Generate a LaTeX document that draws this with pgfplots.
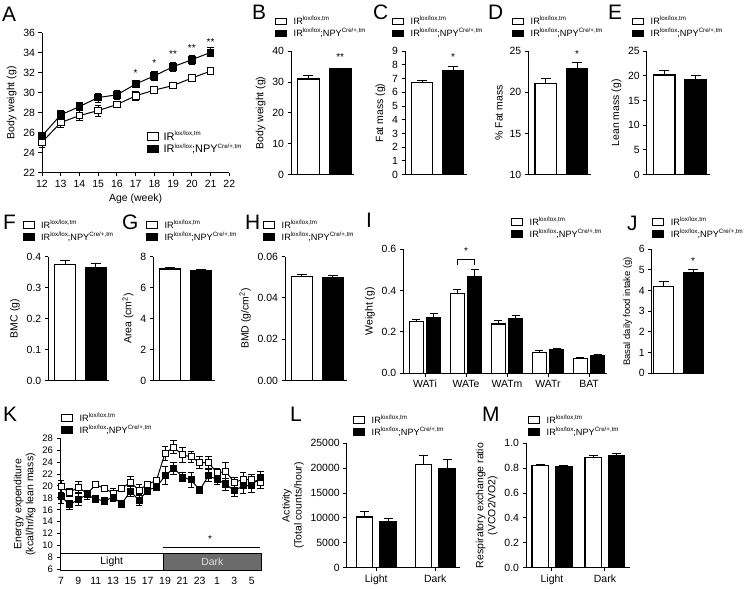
\documentclass[border=0pt]{standalone}
\usepackage{fontspec}
\setmainfont{Liberation Sans}
\usepackage{pgfplots}
\pgfplotsset{compat=1.18}

\newcommand\sps[1]{\raisebox{0.42em}{\fontsize{6.2}{6.2}\selectfont #1}}
\newcommand\gA{IR\sps{lox/lox,tm}}
\newcommand\gB{IR\sps{lox/lox};NPY\sps{Cre/+,tm}}
\newcommand\spsA[1]{\raisebox{0.42em}{\fontsize{6.2}{6.2}\selectfont #1}}
\newcommand\gAA{IR\spsA{lox/lox,tm}}
\newcommand\gBA{IR\spsA{lox/lox};NPY\spsA{Cre/+,tm}}
\newcommand\tickf{\fontsize{10.5}{12}\selectfont}
\newcommand\ktickf{\fontsize{9.5}{10}\selectfont}
\newcommand\labf{\fontsize{10.5}{12}\selectfont}
\newcommand\legf{\fontsize{9.2}{10}\selectfont}
\newcommand\legAf{\fontsize{11}{12}\selectfont}
\newcommand\starf{\fontsize{10}{10}\selectfont}
\newcommand\letf{\fontsize{21}{21}\selectfont}

\pgfplotsset{
 gp/.style={scale only axis, axis lines*=left, axis line style={line width=1pt,-},
   every tick/.style={black, line width=1pt}, tick align=outside, major tick length=3.5bp,
   tick label style={font=\tickf}, label style={font=\labf}, clip=false,
   /pgf/number format/assume math mode=true, scaled ticks=false,
   /pgf/number format/1000 sep={},
   legend style={draw=none, fill=none, font=\legf, inner sep=0pt, outer sep=0pt,
     nodes={inner sep=0pt, outer sep=0pt}, cells={anchor=base west},
     row sep=2.2bp, /tikz/column sep=6.6bp},
   anchor=south west},
 bar2/.style={gp, xmin=0.45, xmax=2.45, xtick=\empty, ymin=0},
 lg/.style 2 args={legend style={at={(axis description cs:0,1)}, anchor=north west, xshift=#1bp, yshift=#2bp}},
 sqW/.style={legend image code/.code={\draw[black,fill=white,line width=0.9pt] (0bp,0bp) rectangle (11.2bp,6.5bp);}},
 sqB/.style={legend image code/.code={\draw[black,fill=black,line width=0.9pt] (0bp,0bp) rectangle (11.2bp,6.5bp);}},
 sqWA/.style={legend image code/.code={\draw[black,fill=white,line width=1pt] (0bp,0bp) rectangle (11bp,7.8bp);}},
 sqBA/.style={legend image code/.code={\draw[black,fill=black,line width=1pt] (0bp,0bp) rectangle (11bp,7.8bp);}},
 ebar/.style={error bars/y dir=plus, error bars/y explicit,
   error bars/error bar style={line width=1pt,black},
   error bars/error mark options={rotate=90, mark size=#1, line width=1pt, black}},
 wbar/.style={ybar, bar width=0.68, bar shift=0pt, fill=white, draw=black, line width=1.3pt, ebar=5bp},
 bbar/.style={ybar, bar width=0.68, bar shift=0pt, fill=black, draw=black, line width=1.3pt, ebar=5bp},
 lineW/.style={black, line width=1pt, mark=square*, mark size=#1, mark options={fill=white, line width=1pt, solid},
   error bars/y dir=both, error bars/y explicit,
   error bars/error bar style={line width=0.9pt,black},
   error bars/error mark options={rotate=90, mark size=3.3bp, line width=0.9pt, black}},
 lineB/.style={black, line width=1pt, mark=square*, mark size=#1, mark options={fill=black, line width=1pt, solid},
   error bars/y dir=both, error bars/y explicit,
   error bars/error bar style={line width=0.9pt,black},
   error bars/error mark options={rotate=90, mark size=3.3bp, line width=0.9pt, black}},
}
\newcommand\twoleg{\addlegendimage{sqW}\addlegendentry{\gA}\addlegendimage{sqB}\addlegendentry{\gB}}

\begin{document}
\begin{tikzpicture}[x=1bp,y=1bp]
\useasboundingbox (0,0) rectangle (745,589);

% panel letters
\foreach \L/\px/\py in {A/2/7,B/252/5,C/373/5,D/488/5,E/608/5,F/3/215,G/122/215,H/245/215,I/366/213,J/627/216,K/3/407,L/290/407,M/482/407}{
  \node[anchor=north west, inner sep=0pt, font=\letf] at (\px,589-\py) {\L};
}

% ---------------- A
\begin{axis}[gp, at={(42bp,416bp)}, width=187.3bp, height=140.3bp,
  xmin=12, xmax=22, ymin=22, ymax=36, xtick={12,...,22}, ytick={22,24,...,36},
  xlabel={Age (week)}, ylabel={Body weight (g)},
  lg={104.7}{-98.3}, legend style={font=\legAf, row sep=2.3bp, /tikz/column sep=5bp}]
\addlegendimage{sqWA}\addlegendentry{\gAA}
\addlegendimage{sqBA}\addlegendentry{\gBA}
\addplot[lineW=3.4bp] coordinates {(12,25.07) +- (0,0.5) (13,27.03) +- (0,0.5) (14,27.73) +- (0,0.5) (15,28.23) +- (0,0.55) (16,28.83) +- (0,0.3) (17,29.7) +- (0,0.45) (18,30.27) +- (0,0.3) (19,30.73) +- (0,0.2) (20,31.47) +- (0,0.2) (21,32.17) +- (0,0.25)};
\addplot[lineB=3.4bp] coordinates {(12,25.7) +- (0,0.3) (13,27.8) +- (0,0.4) (14,28.63) +- (0,0.4) (15,29.53) +- (0,0.45) (16,29.8) +- (0,0.45) (17,30.87) +- (0,0.3) (18,31.7) +- (0,0.45) (19,32.6) +- (0,0.45) (20,33.3) +- (0,0.45) (21,34.03) +- (0,0.45)};
\node[font=\starf] at (axis cs:17,32.0) {*};
\node[font=\starf] at (axis cs:18,33.0) {*};
\node[font=\starf] at (axis cs:19,33.9) {**};
\node[font=\starf] at (axis cs:20,34.5) {**};
\node[font=\starf] at (axis cs:21,35.1) {**};
\end{axis}

% ---------------- B
\begin{axis}[bar2, at={(291bp,414.4bp)}, width=63.4bp, height=123.4bp, ymax=40, ytick={0,10,...,40},
  ylabel={Body weight (g)}, lg={-16}{34.8}]
\twoleg
\addplot[wbar] coordinates {(1,31.0) +- (0,1.2)};
\addplot[bbar] coordinates {(2,34.2) +- (0,0.35)};
\node[font=\starf] at (axis cs:2,38) {**};
\end{axis}

% ---------------- C
\begin{axis}[bar2, at={(405bp,414.4bp)}, width=62bp, height=123.4bp, ymax=9, ytick={0,1,...,9},
  ylabel={Fat mass (g)}, lg={-13}{34.8}]
\twoleg
\addplot[wbar] coordinates {(1,6.7) +- (0,0.15)};
\addplot[bbar] coordinates {(2,7.6) +- (0,0.25)};
\node[font=\starf] at (axis cs:2,8.55) {*};
\end{axis}

% ---------------- D
\begin{axis}[bar2, at={(528.3bp,414.4bp)}, width=63bp, height=123.4bp, ymin=10, ymax=25, ytick={10,15,20,25},
  ylabel={\% Fat mass}, lg={-16.3}{34.8}]
\twoleg
\addplot[wbar] coordinates {(1,21.1) +- (0,0.6)};
\addplot[bbar] coordinates {(2,22.9) +- (0,0.7)};
\node[font=\starf] at (axis cs:2,24.7) {*};
\end{axis}

% ---------------- E
\begin{axis}[bar2, at={(646.7bp,414.4bp)}, width=63.4bp, height=123.4bp, ymax=25, ytick={0,5,...,25},
  ylabel={Lean mass (g)}, lg={-14.7}{34.8}]
\twoleg
\addplot[wbar] coordinates {(1,20.2) +- (0,0.9)};
\addplot[bbar] coordinates {(2,19.2) +- (0,0.8)};
\end{axis}

% ---------------- F
\begin{axis}[bar2, at={(48.3bp,208.5bp)}, width=61bp, height=123.8bp, ymax=0.4, ytick={0,0.1,...,0.4},
  yticklabel style={/pgf/number format/.cd, fixed, fixed zerofill, precision=1},
  ylabel={BMC (g)}, lg={-25.8}{36.6}]
\twoleg
\addplot[wbar] coordinates {(1,0.375) +- (0,0.012)};
\addplot[bbar] coordinates {(2,0.365) +- (0,0.013)};
\end{axis}

% ---------------- G
\begin{axis}[bar2, at={(153.3bp,208.5bp)}, width=61.2bp, height=123.8bp, ymax=8, ytick={0,2,...,8},
  ylabel={Area (cm\textsuperscript{2})}, lg={-7.3}{36.6}]
\twoleg
\addplot[wbar] coordinates {(1,7.2) +- (0,0.1)};
\addplot[bbar] coordinates {(2,7.1) +- (0,0.1)};
\end{axis}

% ---------------- H
\begin{axis}[bar2, at={(285bp,208.5bp)}, width=61.6bp, height=123.8bp, ymax=0.06, ytick={0,0.02,0.04,0.06},
  yticklabel style={/pgf/number format/.cd, fixed, fixed zerofill, precision=2},
  ylabel={BMD (g/cm\textsuperscript{2})}, lg={-22}{36.6}]
\twoleg
\addplot[wbar] coordinates {(1,0.0505) +- (0,0.001)};
\addplot[bbar] coordinates {(2,0.0497) +- (0,0.0012)};
\end{axis}

% ---------------- I
\begin{axis}[gp, at={(403.3bp,215.7bp)}, width=203.8bp, height=124bp, xmin=-0.53, xmax=4.44, ymin=0, ymax=0.6,
  ytick={0,0.2,0.4,0.6}, yticklabel style={/pgf/number format/.cd, fixed, fixed zerofill, precision=1},
  xtick={0,1,2,3,4}, xticklabels={WATi,WATe,WATm,WATr,BAT},
  ylabel={Weight (g)}, lg={107.7}{32.2}]
\twoleg
\addplot[wbar, bar width=0.34, ebar=4bp] coordinates {(-0.21,0.25) +- (0,0.01) (0.79,0.385) +- (0,0.02) (1.79,0.238) +- (0,0.018) (2.79,0.10) +- (0,0.01) (3.79,0.07) +- (0,0.008)};
\addplot[bbar, bar width=0.34, ebar=4bp] coordinates {(0.21,0.27) +- (0,0.018) (1.21,0.47) +- (0,0.03) (2.21,0.265) +- (0,0.013) (3.21,0.113) +- (0,0.006) (4.21,0.083) +- (0,0.01)};
\draw[line width=0.9pt] (axis cs:0.79,0.524) -- (axis cs:0.79,0.552) -- (axis cs:1.21,0.552) -- (axis cs:1.21,0.524);
\node[font=\starf] at (axis cs:1,0.59) {*};
\end{axis}

% ---------------- J
\begin{axis}[gp, at={(651.7bp,215.7bp)}, width=52.4bp, height=124bp, xmin=0.6, xmax=2.37, xtick=\empty, ymin=0, ymax=6,
  ytick={0,1,...,6}, ylabel={Basal daily food intake (g)}, ylabel style={font=\fontsize{9.5}{10}\selectfont},
  lg={0.5}{32.2}]
\twoleg
\addplot[wbar, bar width=0.66] coordinates {(1,4.2) +- (0,0.22)};
\addplot[bbar, bar width=0.66] coordinates {(2,4.85) +- (0,0.15)};
\node[font=\starf] at (axis cs:2,5.45) {*};
\end{axis}

% ---------------- K
\begin{axis}[gp, at={(60bp,18.5bp)}, width=203bp, height=132.2bp, xmin=-0.12, xmax=23.3, ymin=5.8, ymax=28,
  ytick={6,8,...,28}, xtick={0,2,...,22}, xticklabels={7,9,11,13,15,17,19,21,23,1,3,5},
  x axis line style={draw=none}, xtick style={draw=none}, yticklabel style={font=\ktickf},
  ylabel={Energy expenditure\\(kcal/hr/kg lean mass)}, ylabel style={align=center},
  lg={1}{25.2}]
\twoleg
\addplot[fill=white, draw=black, line width=1.2pt] coordinates {(-0.1,5.85) (11.8,5.85) (11.8,8.6) (-0.1,8.6)} -- cycle;
\addplot[fill=black!58, draw=black, line width=1.2pt] coordinates {(11.8,5.85) (23.1,5.85) (23.1,8.6) (11.8,8.6)} -- cycle;
\node[font=\labf] at (axis cs:5.85,7.25) {Light};
\node[font=\labf, text=black!12] at (axis cs:17.45,7.25) {Dark};
\draw[line width=0.9pt] (axis cs:11.8,9.6) -- (axis cs:23.0,9.6);
\node[font=\starf] at (axis cs:17.2,11.0) {*};
\addplot[lineW=3bp] coordinates {(0,19.9) +- (0,1.0) (1,18.9) +- (0,0.7) (2,19.8) +- (0,0.9) (3,18.7) +- (0,0.5) (4,20.2) +- (0,0.5) (5,19.6) +- (0,0.4) (6,18.8) +- (0,0.7) (7,19.6) +- (0,0.5) (8,20.6) +- (0,1.0) (9,19.3) +- (0,0.9) (10,20.3) +- (0,0.5) (11,20.9) +- (0,0.5) (12,25.5) +- (0,1.2) (13,26.5) +- (0,1.1) (14,25.2) +- (0,1.2) (15,24.9) +- (0,0.9) (16,23.9) +- (0,1.0) (17,23.9) +- (0,1.0) (18,22.2) +- (0,0.8) (19,22.4) +- (0,1.5) (20,20.6) +- (0,0.8) (21,21.1) +- (0,1.2) (22,21.0) +- (0,1.0) (23,20.6) +- (0,1.0)};
\addplot[lineB=3bp] coordinates {(0,18.3) +- (0,1.2) (1,16.8) +- (0,0.8) (2,17.8) +- (0,1.0) (3,18.5) +- (0,0.8) (4,17.8) +- (0,0.6) (5,17.5) +- (0,0.6) (6,18.1) +- (0,0.7) (7,17.0) +- (0,0.6) (8,19.1) +- (0,0.8) (9,17.6) +- (0,0.9) (10,19.3) +- (0,0.7) (11,19.8) +- (0,0.6) (12,21.7) +- (0,1.5) (13,23.0) +- (0,1.0) (14,21.5) +- (0,0.8) (15,21.0) +- (0,1.3) (16,19.3) +- (0,0.6) (17,21.7) +- (0,1.0) (18,21.1) +- (0,0.8) (19,20.3) +- (0,1.0) (20,19.2) +- (0,1.0) (21,20.0) +- (0,1.2) (22,20.1) +- (0,1.2) (23,21.5) +- (0,1.0)};
\end{axis}

% ---------------- L
\begin{axis}[gp, at={(346.7bp,21.3bp)}, width=113.3bp, height=124.4bp, xmin=-0.5, xmax=1.42, ymin=0, ymax=25000,
  ytick={0,5000,...,25000}, xtick={0,1}, xticklabels={Light,Dark},
  ylabel={Activity\\(Total counts/hour)}, ylabel style={align=center}, lg={6.3}{28.2}]
\twoleg
\addplot[wbar, bar width=0.28, ebar=4.5bp] coordinates {(-0.2,10200) +- (0,1000) (0.8,20800) +- (0,1700)};
\addplot[bbar, bar width=0.28, ebar=4.5bp] coordinates {(0.2,9200) +- (0,600) (1.2,19900) +- (0,1800)};
\end{axis}

% ---------------- M
\begin{axis}[gp, at={(526bp,21.3bp)}, width=104.4bp, height=124.4bp, xmin=-0.49, xmax=1.48, ymin=0, ymax=1.0,
  ytick={0,0.2,...,1.0}, yticklabel style={/pgf/number format/.cd, fixed, fixed zerofill, precision=1},
  xtick={0,1}, xticklabels={Light,Dark},
  ylabel={Respiratory exchange ratio\\(VCO2/VO2)}, ylabel style={align=center}, lg={2}{28.2}]
\twoleg
\addplot[wbar, bar width=0.31, ebar=4.5bp] coordinates {(-0.22,0.822) +- (0,0.006) (0.78,0.885) +- (0,0.015)};
\addplot[bbar, bar width=0.31, ebar=4.5bp] coordinates {(0.22,0.81) +- (0,0.015) (1.22,0.90) +- (0,0.02)};
\end{axis}

\end{tikzpicture}
\end{document}
